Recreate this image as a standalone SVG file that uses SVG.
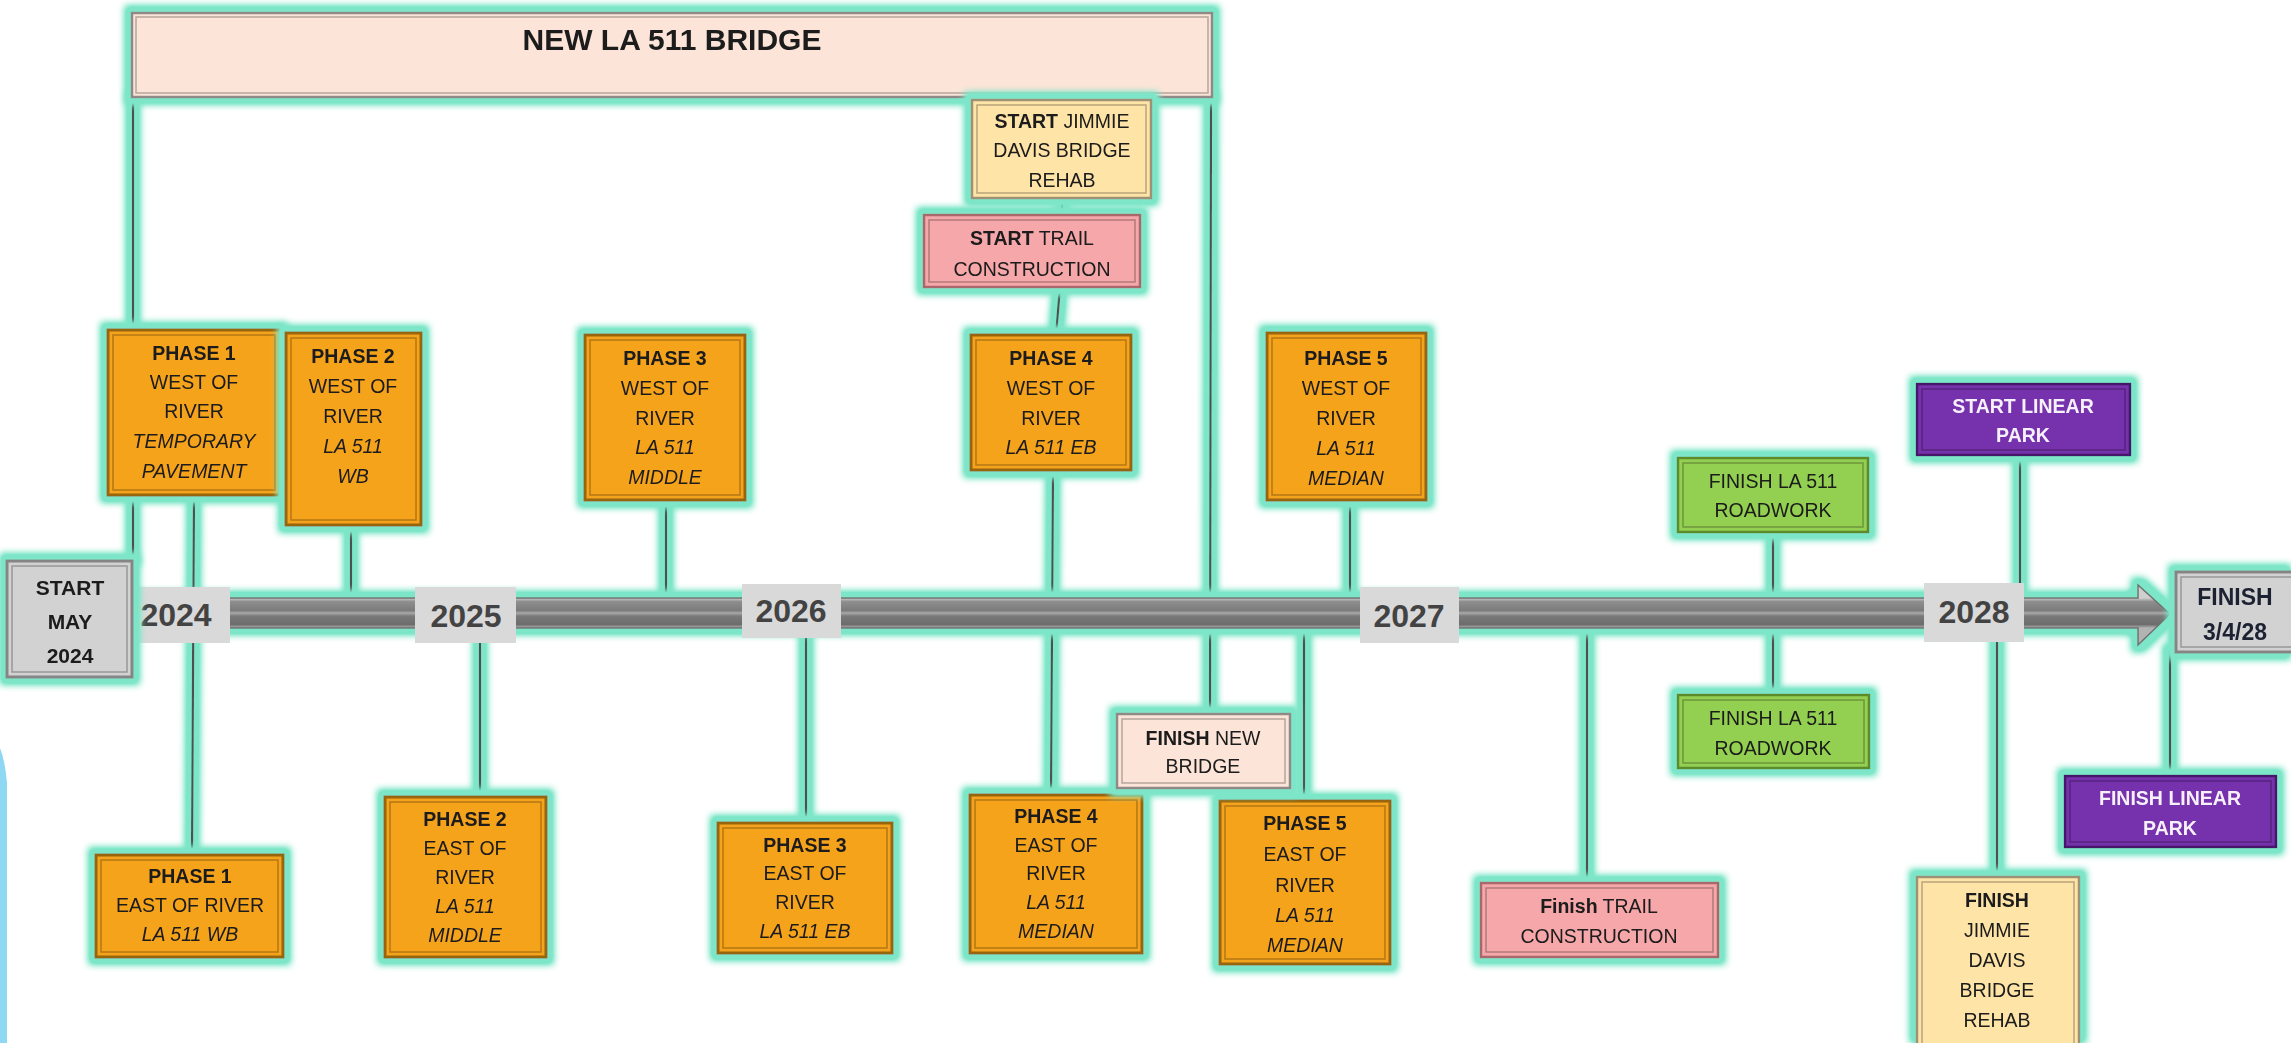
<svg xmlns="http://www.w3.org/2000/svg" width="2291" height="1043" viewBox="0 0 2291 1043">
<style>
.t{font-family:"Liberation Sans",Arial,sans-serif;font-size:19.5px;fill:#1a1a1a;text-anchor:middle}
.b{font-weight:bold}
.i{font-style:italic}
.w{fill:#f6f0fb}
.yr{font-family:"Liberation Sans",Arial,sans-serif;font-size:32px;font-weight:bold;fill:#434343;text-anchor:middle}
.conn line{stroke:#4f4f4f;stroke-width:2.2}
.or{fill:#F6A31F;stroke:#96650f;stroke-width:3}
.gy{fill:#d2d2d2;stroke:#858585;stroke-width:3}
.pc{fill:#FCE4D8;stroke:#8f8a88;stroke-width:2.5}
.ye{fill:#FFE4A8;stroke:#9d9277;stroke-width:2.5}
.pk{fill:#F6A7AA;stroke:#a8686c;stroke-width:2.5}
.gr{fill:#93D051;stroke:#5d8a2c;stroke-width:2.5}
.pu{fill:#7630AC;stroke:#45186a;stroke-width:2.5}
.in{fill:none;stroke:#000;stroke-opacity:0.28;stroke-width:1.5}
.ylab{fill:#d9d9d9}
</style>
<defs>
<filter id="glow" filterUnits="userSpaceOnUse" x="0" y="0" width="2291" height="1043">
<feMorphology in="SourceAlpha" operator="dilate" radius="6" result="d"/>
<feGaussianBlur in="d" stdDeviation="3.5" result="bl"/>
<feComponentTransfer in="bl" result="bl2"><feFuncA type="linear" slope="1.6"/></feComponentTransfer>
<feFlood flood-color="#7ee6c8"/>
<feComposite in2="bl2" operator="in" result="g"/>
<feMerge><feMergeNode in="g"/><feMergeNode in="SourceGraphic"/></feMerge>
</filter>
<linearGradient id="band" gradientUnits="userSpaceOnUse" x1="0" y1="598" x2="0" y2="628">
<stop offset="0" stop-color="#cfcfcf"/>
<stop offset="0.12" stop-color="#8e8e8e"/>
<stop offset="0.42" stop-color="#7b7b7b"/>
<stop offset="0.5" stop-color="#a9a9a9"/>
<stop offset="0.6" stop-color="#7a7a7a"/>
<stop offset="0.88" stop-color="#6c6c6c"/>
<stop offset="1" stop-color="#b3b3b3"/>
</linearGradient>
</defs>
<rect x="0" y="0" width="2291" height="1043" fill="#ffffff"/>
<path d="M0,748 Q5,760 7,783 L7,1043 L0,1043 Z" fill="#8ed8f3"/>

<g id="connectors" class="conn" filter="url(#glow)">
<line x1="133" y1="97" x2="133" y2="560"/>
<line x1="194" y1="495" x2="192" y2="855"/>
<line x1="351" y1="525" x2="351" y2="600"/>
<line x1="480" y1="640" x2="480" y2="797"/>
<line x1="666" y1="500" x2="666" y2="600"/>
<line x1="806" y1="636" x2="806" y2="823"/>
<line x1="1062" y1="198" x2="1062" y2="215"/>
<line x1="1060" y1="287" x2="1056" y2="335"/>
<line x1="1053" y1="470" x2="1051" y2="795"/>
<line x1="1211" y1="97" x2="1210" y2="714"/>
<line x1="1350" y1="500" x2="1350" y2="600"/>
<line x1="1304" y1="626" x2="1304" y2="801"/>
<line x1="1587" y1="626" x2="1587" y2="883"/>
<line x1="1773" y1="532" x2="1773" y2="695"/>
<line x1="2020" y1="455" x2="2020" y2="598"/>
<line x1="1997" y1="640" x2="1997" y2="877"/>
<line x1="2170" y1="650" x2="2170" y2="776"/>
</g>

<g id="timeline" filter="url(#glow)">
<path d="M132,598 H2138 V585 L2170,614 L2138,645 V628 H132 Z" fill="url(#band)" stroke="#6f6f6f" stroke-width="1.5"/>
</g>

<g id="year-2024"><rect class="ylab" x="126" y="587" width="104" height="56"/><text class="yr" x="176" y="626">2024</text></g>
<g id="year-2025"><rect class="ylab" x="415" y="587" width="101" height="56"/><text class="yr" x="466" y="627">2025</text></g>
<g id="year-2026"><rect class="ylab" x="742" y="584" width="99" height="54"/><text class="yr" x="791" y="622">2026</text></g>
<g id="year-2027"><rect class="ylab" x="1360" y="587" width="99" height="56"/><text class="yr" x="1409" y="627">2027</text></g>
<g id="year-2028"><rect class="ylab" x="1924" y="583" width="100" height="59"/><text class="yr" x="1974" y="623">2028</text></g>

<g id="bridge" filter="url(#glow)">
<rect class="pc" x="132" y="13" width="1080" height="84"/>
<rect class="in" x="136" y="17" width="1072" height="76"/>
<text class="t b" style="font-size:30px" x="672" y="50">NEW LA 511 BRIDGE</text>
</g>

<g id="start" filter="url(#glow)">
<rect class="gy" x="7" y="561" width="125" height="116"/>
<rect class="in" x="12" y="566" width="115" height="106"/>
<text class="t b" style="font-size:21px" x="70" y="595">START</text>
<text class="t b" style="font-size:21px" x="70" y="629">MAY</text>
<text class="t b" style="font-size:21px" x="70" y="663">2024</text>
</g>

<g id="finish" filter="url(#glow)">
<rect class="gy" x="2176" y="572" width="122" height="80"/>
<rect class="in" x="2181" y="577" width="112" height="70"/>
<text class="t b" style="font-size:23px;fill:#1d2233" x="2235" y="605">FINISH</text>
<text class="t b" style="font-size:23px;fill:#1d2233" x="2235" y="640">3/4/28</text>
</g>

<g id="p1w" filter="url(#glow)">
<rect class="or" x="108" y="330" width="172" height="165"/>
<rect class="in" x="113" y="335" width="162" height="155"/>
<text class="t b" x="194" y="360">PHASE 1</text>
<text class="t" x="194" y="389">WEST OF</text>
<text class="t" x="194" y="418">RIVER</text>
<text class="t i" x="194" y="448">TEMPORARY</text>
<text class="t i" x="194" y="478">PAVEMENT</text>
</g>

<g id="p2w" filter="url(#glow)">
<rect class="or" x="286" y="333" width="135" height="192"/>
<rect class="in" x="291" y="338" width="125" height="182"/>
<text class="t b" x="353" y="363">PHASE 2</text>
<text class="t" x="353" y="393">WEST OF</text>
<text class="t" x="353" y="423">RIVER</text>
<text class="t i" x="353" y="453">LA 511</text>
<text class="t i" x="353" y="483">WB</text>
</g>

<g id="p3w" filter="url(#glow)">
<rect class="or" x="585" y="335" width="160" height="165"/>
<rect class="in" x="590" y="340" width="150" height="155"/>
<text class="t b" x="665" y="365">PHASE 3</text>
<text class="t" x="665" y="395">WEST OF</text>
<text class="t" x="665" y="425">RIVER</text>
<text class="t i" x="665" y="454">LA 511</text>
<text class="t i" x="665" y="484">MIDDLE</text>
</g>

<g id="p4w" filter="url(#glow)">
<rect class="or" x="971" y="335" width="160" height="135"/>
<rect class="in" x="976" y="340" width="150" height="125"/>
<text class="t b" x="1051" y="365">PHASE 4</text>
<text class="t" x="1051" y="395">WEST OF</text>
<text class="t" x="1051" y="425">RIVER</text>
<text class="t i" x="1051" y="454">LA 511 EB</text>
</g>

<g id="p5w" filter="url(#glow)">
<rect class="or" x="1267" y="333" width="159" height="167"/>
<rect class="in" x="1272" y="338" width="149" height="157"/>
<text class="t b" x="1346" y="365">PHASE 5</text>
<text class="t" x="1346" y="395">WEST OF</text>
<text class="t" x="1346" y="425">RIVER</text>
<text class="t i" x="1346" y="455">LA 511</text>
<text class="t i" x="1346" y="485">MEDIAN</text>
</g>

<g id="p1e" filter="url(#glow)">
<rect class="or" x="96" y="855" width="187" height="102"/>
<rect class="in" x="101" y="860" width="177" height="92"/>
<text class="t b" x="190" y="883">PHASE 1</text>
<text class="t" x="190" y="912">EAST OF RIVER</text>
<text class="t i" x="190" y="941">LA 511 WB</text>
</g>

<g id="p2e" filter="url(#glow)">
<rect class="or" x="385" y="797" width="161" height="160"/>
<rect class="in" x="390" y="802" width="151" height="150"/>
<text class="t b" x="465" y="826">PHASE 2</text>
<text class="t" x="465" y="855">EAST OF</text>
<text class="t" x="465" y="884">RIVER</text>
<text class="t i" x="465" y="913">LA 511</text>
<text class="t i" x="465" y="942">MIDDLE</text>
</g>

<g id="p3e" filter="url(#glow)">
<rect class="or" x="718" y="823" width="174" height="130"/>
<rect class="in" x="723" y="828" width="164" height="120"/>
<text class="t b" x="805" y="852">PHASE 3</text>
<text class="t" x="805" y="880">EAST OF</text>
<text class="t" x="805" y="909">RIVER</text>
<text class="t i" x="805" y="938">LA 511 EB</text>
</g>

<g id="p4e" filter="url(#glow)">
<rect class="or" x="970" y="795" width="172" height="158"/>
<rect class="in" x="975" y="800" width="162" height="148"/>
<text class="t b" x="1056" y="823">PHASE 4</text>
<text class="t" x="1056" y="852">EAST OF</text>
<text class="t" x="1056" y="880">RIVER</text>
<text class="t i" x="1056" y="909">LA 511</text>
<text class="t i" x="1056" y="938">MEDIAN</text>
</g>

<g id="p5e" filter="url(#glow)">
<rect class="or" x="1220" y="801" width="170" height="163"/>
<rect class="in" x="1225" y="806" width="160" height="153"/>
<text class="t b" x="1305" y="830">PHASE 5</text>
<text class="t" x="1305" y="861">EAST OF</text>
<text class="t" x="1305" y="892">RIVER</text>
<text class="t i" x="1305" y="922">LA 511</text>
<text class="t i" x="1305" y="952">MEDIAN</text>
</g>

<g id="start-jimmie" filter="url(#glow)">
<rect class="ye" x="972" y="100" width="179" height="98"/>
<rect class="in" x="977" y="105" width="169" height="88"/>
<text class="t" x="1062" y="128"><tspan class="b">START</tspan> JIMMIE</text>
<text class="t" x="1062" y="157">DAVIS BRIDGE</text>
<text class="t" x="1062" y="187">REHAB</text>
</g>

<g id="start-trail" filter="url(#glow)">
<rect class="pk" x="924" y="215" width="216" height="72"/>
<rect class="in" x="929" y="220" width="206" height="62"/>
<text class="t" x="1032" y="245"><tspan class="b">START</tspan> TRAIL</text>
<text class="t" x="1032" y="276">CONSTRUCTION</text>
</g>

<g id="finish-new-bridge" filter="url(#glow)">
<rect class="pc" x="1117" y="714" width="173" height="74"/>
<rect class="in" x="1122" y="719" width="163" height="64"/>
<text class="t" x="1203" y="745"><tspan class="b">FINISH</tspan> NEW</text>
<text class="t" x="1203" y="773">BRIDGE</text>
</g>

<g id="finish-roadwork-top" filter="url(#glow)">
<rect class="gr" x="1678" y="458" width="190" height="74"/>
<rect class="in" x="1683" y="463" width="180" height="64"/>
<text class="t" x="1773" y="488">FINISH LA 511</text>
<text class="t" x="1773" y="517">ROADWORK</text>
</g>

<g id="finish-roadwork-bottom" filter="url(#glow)">
<rect class="gr" x="1678" y="695" width="191" height="73"/>
<rect class="in" x="1683" y="700" width="181" height="63"/>
<text class="t" x="1773" y="725">FINISH LA 511</text>
<text class="t" x="1773" y="755">ROADWORK</text>
</g>

<g id="start-linear-park" filter="url(#glow)">
<rect class="pu" x="1917" y="384" width="213" height="71"/>
<rect class="in" x="1922" y="389" width="203" height="61"/>
<text class="t w" x="2023" y="413"><tspan class="b">START</tspan> <tspan class="b">LINEAR</tspan></text>
<text class="t w b" x="2023" y="442">PARK</text>
</g>

<g id="finish-linear-park" filter="url(#glow)">
<rect class="pu" x="2065" y="776" width="211" height="71"/>
<rect class="in" x="2070" y="781" width="201" height="61"/>
<text class="t w" x="2170" y="805"><tspan class="b">FINISH</tspan> <tspan class="b">LINEAR</tspan></text>
<text class="t w b" x="2170" y="835">PARK</text>
</g>

<g id="finish-trail" filter="url(#glow)">
<rect class="pk" x="1481" y="883" width="237" height="74"/>
<rect class="in" x="1486" y="888" width="227" height="64"/>
<text class="t" x="1599" y="913"><tspan class="b">Finish</tspan> TRAIL</text>
<text class="t" x="1599" y="943">CONSTRUCTION</text>
</g>

<g id="finish-jimmie" filter="url(#glow)">
<rect class="ye" x="1917" y="877" width="162" height="172"/>
<rect class="in" x="1922" y="882" width="152" height="162"/>
<text class="t b" x="1997" y="907">FINISH</text>
<text class="t" x="1997" y="937">JIMMIE</text>
<text class="t" x="1997" y="967">DAVIS</text>
<text class="t" x="1997" y="997">BRIDGE</text>
<text class="t" x="1997" y="1027">REHAB</text>
</g>
</svg>
